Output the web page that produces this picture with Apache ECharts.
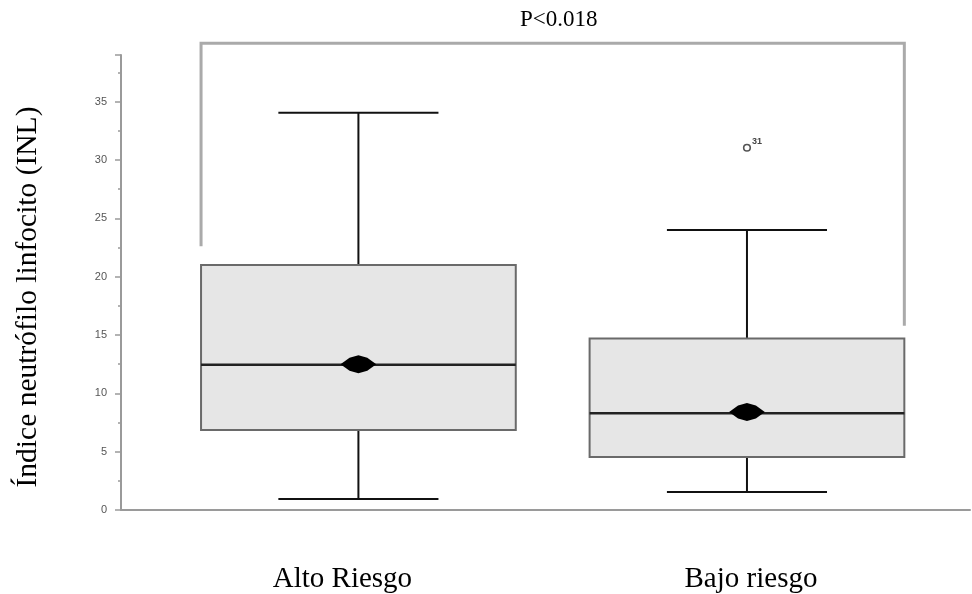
<!DOCTYPE html>
<html>
<head>
<meta charset="utf-8">
<script src="https://cdn.jsdelivr.net/npm/echarts@6/dist/echarts.min.js"></script>
<style>html,body{margin:0;padding:0;background:#fff}#c{width:972px;height:594px}</style>
</head>
<body>
<div id="c"></div>
<script>
// Data
const categories = ['Alto Riesgo', 'Bajo riesgo'];
const positions = [1, 2];
const mins = [0.95, 1.55];
const q1s = [6.85, 4.55];
const medians = [12.45, 8.3];
const q3s = [21.0, 14.7];
const maxs = [34.05, 24.0];
const means = [12.5, 8.4];
const outliers = [[2, 31.05, '31']];
const bracketTop = 40;
const bracketEnds = [22.6, 15.8];
const pText = 'P<0.018';
const yName = 'Índice neutrófilo linfocito (INL)';
const yTicks = [0, 5, 10, 15, 20, 25, 30, 35];

const boxData = positions.map((p, i) => [p, mins[i], q1s[i], medians[i], q3s[i], maxs[i], means[i]]);

const BOX_HALF = 0.405, CAP_HALF = 0.206, DIA_HALF = 0.046;

const chart = echarts.init(document.getElementById('c'), null, {renderer: 'canvas'});
chart.setOption({
  animation: false,
  backgroundColor: '#fff',
  grid: {left: 121, right: 2, top: 55, bottom: 84},
  graphic: [
    {type: 'text', x: 28, y: 297, rotation: Math.PI / 2,
      style: {text: yName, fontFamily: 'Liberation Serif', fontSize: 29.5, fill: '#000',
        align: 'center', verticalAlign: 'middle'}}
  ],
  xAxis: {
    type: 'value', min: 0.389, max: 2.574,
    axisLine: {show: true, lineStyle: {color: '#9a9a9a', width: 2}},
    axisTick: {show: false}, axisLabel: {show: false}, splitLine: {show: false}
  },
  yAxis: {
    type: 'value', min: 0, max: 39, interval: 5,
    axisLine: {show: true, lineStyle: {color: '#9a9a9a', width: 2}},
    axisTick: {show: true, length: 6, lineStyle: {color: '#9a9a9a', width: 1.5}},
    minorTick: {show: true, splitNumber: 2, length: 3, lineStyle: {color: '#9a9a9a', width: 1.5}},
    axisLabel: {fontFamily: 'Liberation Sans', fontSize: 11, color: '#555', margin: 14,
      formatter: v => yTicks.includes(v) ? String(v) : ''},
    splitLine: {show: false}
  },
  series: [
    {
      type: 'custom', clip: false, z: 3,
      data: boxData,
      renderItem: function (params, api) {
        const x = api.value(0);
        const pMin = api.coord([x, api.value(1)]);
        const pQ1 = api.coord([x, api.value(2)]);
        const pMed = api.coord([x, api.value(3)]);
        const pQ3 = api.coord([x, api.value(4)]);
        const pMax = api.coord([x, api.value(5)]);
        const pMean = api.coord([x, api.value(6)]);
        const bl = api.coord([x - BOX_HALF, 0])[0], br = api.coord([x + BOX_HALF, 0])[0];
        const cl = api.coord([x - CAP_HALF, 0])[0], cr = api.coord([x + CAP_HALF, 0])[0];
        const dl = api.coord([x - DIA_HALF, 0])[0], dr = api.coord([x + DIA_HALF, 0])[0];
        const blk = {stroke: '#111', lineWidth: 2};
        const labelPt = api.coord([x, 0]);
        return {
          type: 'group',
          children: [
            {type: 'line', shape: {x1: pMax[0], y1: pMax[1], x2: pQ3[0], y2: pQ3[1]}, style: blk},
            {type: 'line', shape: {x1: pQ1[0], y1: pQ1[1], x2: pMin[0], y2: pMin[1]}, style: blk},
            {type: 'line', shape: {x1: cl, y1: pMax[1], x2: cr, y2: pMax[1]}, style: blk},
            {type: 'line', shape: {x1: cl, y1: pMin[1], x2: cr, y2: pMin[1]}, style: blk},
            {type: 'rect', shape: {x: bl, y: pQ3[1], width: br - bl, height: pQ1[1] - pQ3[1]},
              style: {fill: '#e6e6e6', stroke: '#6a6a6a', lineWidth: 2}},
            {type: 'line', shape: {x1: bl, y1: pMed[1], x2: br, y2: pMed[1]}, style: {stroke: '#222', lineWidth: 2.5}},
            {type: 'polygon', shape: {points: [
              [dl, pMean[1]], [dl + 9, pMean[1] - 6.5], [pMean[0], pMean[1] - 9], [dr - 9, pMean[1] - 6.5],
              [dr, pMean[1]], [dr - 9, pMean[1] + 6.5], [pMean[0], pMean[1] + 9], [dl + 9, pMean[1] + 6.5]
            ]}, style: {fill: '#000'}},
            {type: 'text', x: labelPt[0] + (params.dataIndex === 0 ? -16 : 4), y: labelPt[1] + 69,
              style: {text: categories[params.dataIndex], fontFamily: 'Liberation Serif', fontSize: 29,
                fill: '#000', align: 'center', verticalAlign: 'middle'}}
          ]
        };
      }
    },
    {
      type: 'custom', clip: false, z: 4,
      data: outliers,
      renderItem: function (params, api) {
        const p = api.coord([api.value(0), api.value(1)]);
        return {
          type: 'group',
          children: [
            {type: 'circle', shape: {cx: p[0], cy: p[1], r: 3.3}, style: {fill: '#fff', stroke: '#555', lineWidth: 1.6}},
            {type: 'text', x: p[0] + 5, y: p[1] - 11, style: {text: outliers[params.dataIndex][2],
              fontFamily: 'Liberation Sans', fontSize: 9, fontWeight: 'bold', fill: '#444'}}
          ]
        };
      }
    },
    {
      type: 'custom', clip: false, z: 2,
      data: [[0]],
      renderItem: function (params, api) {
        const xl = positions[0] - BOX_HALF, xr = positions[1] + BOX_HALF;
        const tl = api.coord([xl, bracketTop]), tr = api.coord([xr, bracketTop]);
        const el = api.coord([xl, bracketEnds[0]]), er = api.coord([xr, bracketEnds[1]]);
        const st = {stroke: '#aaaaaa', lineWidth: 3, fill: null};
        return {
          type: 'group',
          children: [
            {type: 'polyline', shape: {points: [[el[0], el[1]], [tl[0], tl[1]], [tr[0], tr[1]], [er[0], er[1]]]}, style: st},
            {type: 'text', x: (tl[0] + tr[0]) / 2 + 6, y: tl[1] - 23,
              style: {text: pText, fontFamily: 'Liberation Serif', fontSize: 23, fill: '#000', align: 'center', verticalAlign: 'middle'}}
          ]
        };
      }
    }
  ]
});
</script>
</body>
</html>
